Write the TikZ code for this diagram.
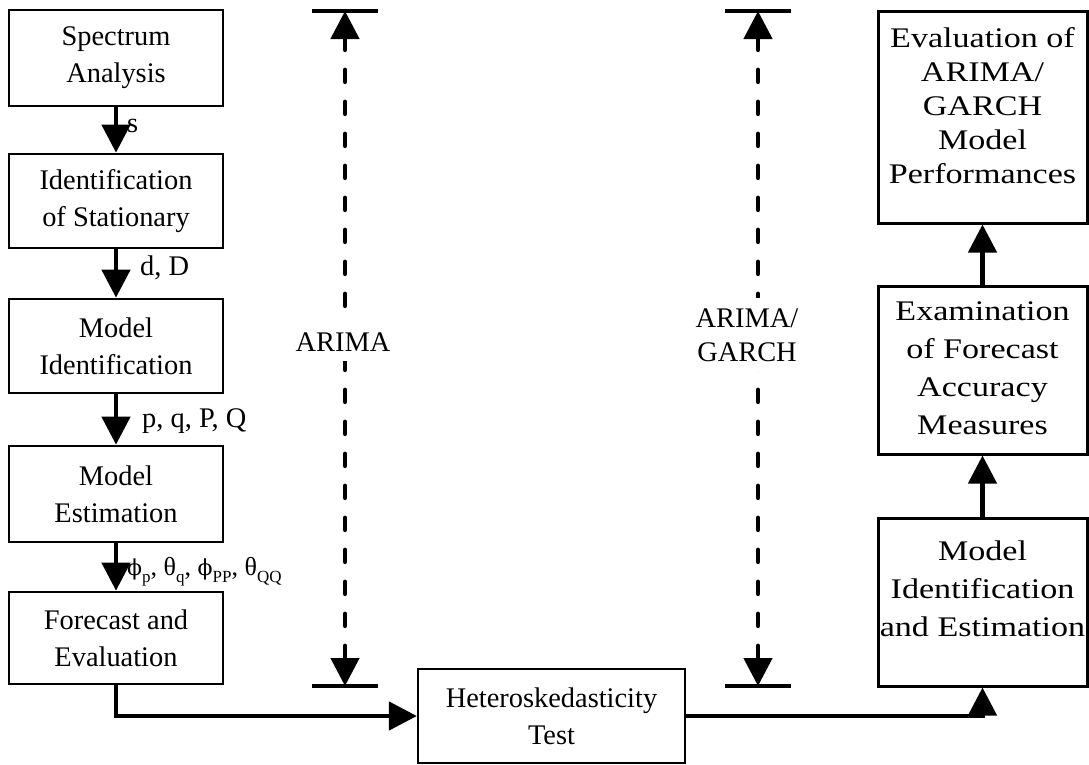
\documentclass[tikz,border=0pt]{standalone}
\usepackage{fontspec}
\setmainfont{Liberation Serif}
\newfontfamily\widefont[FakeStretch=1.2]{Liberation Serif}
\newfontfamily\phifont{DejaVu Serif}
\usetikzlibrary{arrows.meta}
\newcommand\sbs[1]{\raisebox{-7pt}{\fontsize{17}{17}\selectfont #1}}
\newcommand\myphi{{\phifont\fontsize{22}{22}\selectfont ϕ}}
\begin{document}
\begin{tikzpicture}[x=1pt,y=-1pt,
  txt/.style={font=\fontsize{28.4}{37}\selectfont, align=center, inner sep=0pt},
  wtxt/.style={font=\widefont\fontsize{28.4}{38}\selectfont, align=center, inner sep=0pt},
  lbl/.style={font=\fontsize{28.4}{34}\selectfont, inner sep=0pt},
  lbox/.style={draw, line width=2.7pt, minimum width=214pt, inner sep=0pt, txt},
  rbox/.style={draw, line width=3pt, minimum width=209pt, inner sep=0pt},
  hbox/.style={draw, line width=2.2pt, minimum width=267pt, minimum height=94pt, txt},
  flow/.style={line width=4.6pt, -{Triangle[length=28pt,width=28pt]}},
  dline/.style={line width=4.6pt, line cap=round, dash pattern=on 12pt off 20pt,
    {Triangle[length=28pt,width=28pt,line cap=butt]}-{Triangle[length=28pt,width=28pt,line cap=butt]}},
  bar/.style={line width=3.4pt},
  dlabel/.style={fill=white, align=center, inner xsep=2pt, inner ysep=10pt,
    font=\fontsize{28.4}{34}\selectfont}
]
\useasboundingbox (0,0) rectangle (1089,764);

% left column
\node[lbox, minimum height=96pt] (b1) at (116,58) {Spectrum\\Analysis};
\node[lbox, minimum height=94pt] (b2) at (116,201) {Identification\\of Stationary};
\node[lbox, minimum height=94pt] (b3) at (116,346) {Model\\Identification};
\node[lbox, minimum height=96pt] (b4) at (116,494) {Model\\Estimation};
\node[lbox, minimum height=92pt] (b5) at (116,638) {Forecast and\\Evaluation};

\draw[flow] (b1.south) -- (b2.north);
\draw[flow] (b2.south) -- (b3.north);
\draw[flow] (b3.south) -- (b4.north);
\draw[flow] (b4.south) -- (b5.north);

\node[lbl, anchor=base west] (ls) at (127,132) {s};
\node[lbl, anchor=base west] (ld) at (140,275) {d, D};
\node[lbl, anchor=base west] (lp) at (142,427) {p, q, P, Q};
\node[inner sep=0pt, anchor=base west, font=\fontsize{26}{26}\selectfont] (lphi) at (127,575)
  {\myphi\sbs{p}, θ\sbs{q}, \myphi\sbs{PP}, θ\sbs{QQ}};

% heteroskedasticity
\node[hbox] (het) at (551.5,716) {Heteroskedasticity\\Test};
\draw[flow] (b5.south) |- (het.west);

% right column
\node[rbox, minimum height=212pt] (rt) at (982.5,117) {};
\node[wtxt, font=\widefont\fontsize{28.4}{34}\selectfont] (rtt) at (982.5,106)
  {Evaluation of\\ARIMA/\\GARCH\\Model\\Performances};
\node[rbox, minimum height=168pt] (rm) at (982.5,370) {};
\node[wtxt] (rmt) at (982.5,368) {Examination\\of Forecast\\Accuracy\\Measures};
\node[rbox, minimum height=168pt] (rb) at (982.5,602) {};
\node[wtxt] (rbt) at (982.5,589) {Model\\Identification\\and Estimation};

\draw[flow] (het.east) -| (rb.south);
\draw[flow] (rb.north) -- (rm.south);
\draw[flow] (rm.north) -- (rt.south);

% dashed ARIMA
\coordinate (at) at (345,11);
\coordinate (ab) at (345,686);
\draw[bar] ([xshift=-33pt]at) -- ([xshift=33pt]at);
\draw[bar] ([xshift=-33pt]ab) -- ([xshift=33pt]ab);
\draw[dline] (at) -- (ab);
\node[dlabel] (al) at (343,342) {ARIMA};

% dashed ARIMA/GARCH
\coordinate (gt) at (758,11);
\coordinate (gb) at (758,686);
\draw[bar] ([xshift=-33pt]gt) -- ([xshift=33pt]gt);
\draw[bar] ([xshift=-33pt]gb) -- ([xshift=33pt]gb);
\draw[dline] (gt) -- (gb);
\node[dlabel] (gl) at (747,335) {ARIMA/\\GARCH};
\end{tikzpicture}
\end{document}
